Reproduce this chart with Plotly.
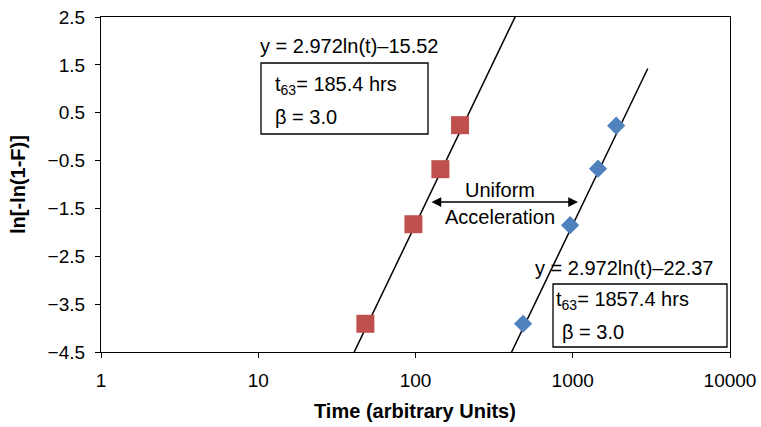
import numpy as np
import plotly.graph_objects as go

# Failure times (arbitrary units) and Weibull plotting positions
t_stress = [48, 97, 144, 192]
y_stress = [-3.91, -1.83, -0.68, 0.24]
t_use = [483, 962, 1449, 1889]
y_use = [-3.91, -1.85, -0.67, 0.23]

# Fitted trend lines: y = slope*ln(t) + intercept
slope = 2.972
icpt_stress = -15.52
icpt_use = -22.37
fit_span_stress = [40, 450]
fit_span_use = [400, 3000]

x_tickvals = [1, 10, 100, 1000, 10000]
x_ticktext = ["1", "10", "100", "1000", "10000"]
y_tickvals = [2.5, 1.5, 0.5, -0.5, -1.5, -2.5, -3.5, -4.5]

W, H = 761, 427
L, R, T, B = 101, 31, 17, 75
PW, PH = W - L - R, H - T - B


def px(x):
    return (x - L) / PW


def py(y):
    return (H - B - y) / PH


FONT = "Liberation Sans, Arial, sans-serif"

fig = go.Figure()


def fit_line(span, icpt):
    t = np.geomspace(span[0], span[1], 50)
    return t, slope * np.log(t) + icpt


for span, icpt in [(fit_span_stress, icpt_stress), (fit_span_use, icpt_use)]:
    tt, yy = fit_line(span, icpt)
    fig.add_trace(go.Scatter(x=tt, y=yy, mode="lines",
                             line=dict(color="black", width=1.5),
                             hoverinfo="skip", showlegend=False))

fig.add_trace(go.Scatter(x=t_stress, y=y_stress, mode="markers",
                         marker=dict(symbol="square", size=18, color="#C0504D"),
                         showlegend=False))
fig.add_trace(go.Scatter(x=t_use, y=y_use, mode="markers",
                         marker=dict(symbol="diamond", size=14, color="#4F81BD"),
                         showlegend=False))

annos = []


def text(x, y, s, anchor="left", size=20):
    annos.append(dict(x=px(x), y=py(y), xref="paper", yref="paper", text=s,
                      showarrow=False, xanchor=anchor, yanchor="middle",
                      font=dict(family=FONT, size=size, color="black")))


text(258, 46, "y = 2.972ln(t)\u201315.52")
text(273, 85, "t<sub>63</sub>= 185.4 hrs")
text(273, 117, "\u03b2 = 3.0")
text(533, 268, "y = 2.972ln(t)\u201322.37")
text(554, 300, "t<sub>63</sub>= 1857.4 hrs")
text(560, 332, "\u03b2 = 3.0")
text(500, 190, "Uniform", anchor="center")
text(500, 217, "Acceleration", anchor="center")

# axis titles placed directly in the margins
annos.append(dict(x=px(415), y=py(411), xref="paper", yref="paper",
                  text="<b>Time (arbitrary Units)</b>", showarrow=False,
                  xanchor="center", yanchor="middle",
                  font=dict(family=FONT, size=20, color="black")))
annos.append(dict(x=px(18), y=py(185), xref="paper", yref="paper",
                  text="<b>ln[-ln(1-F)]</b>", showarrow=False, textangle=-90,
                  xanchor="center", yanchor="middle",
                  font=dict(family=FONT, size=20, color="black")))

# double-headed arrow between the two populations
annos.append(dict(x=px(578), y=py(202), xref="paper", yref="paper",
                  ax=-(578 - 430), ay=0, axref="pixel", ayref="pixel",
                  text="", showarrow=True, arrowhead=2, startarrowhead=2,
                  arrowside="end+start", arrowsize=1.3, startarrowsize=1.3,
                  arrowwidth=1.5, arrowcolor="black", standoff=0, startstandoff=0))

shapes = []
for x0, y0, x1, y1 in [(261, 63, 428, 134), (553, 284, 727, 347)]:
    shapes.append(dict(type="rect", xref="paper", yref="paper",
                       x0=px(x0), x1=px(x1), y0=py(y1), y1=py(y0),
                       line=dict(color="black", width=1.3), fillcolor="white",
                       layer="below"))

fig.update_layout(
    width=W, height=H,
    margin=dict(l=L, r=R, t=T, b=B, autoexpand=False),
    paper_bgcolor="white", plot_bgcolor="white",
    font=dict(family=FONT, size=19, color="black"),
    annotations=annos, shapes=shapes,
    xaxis=dict(type="log", range=[0, 4], tickvals=x_tickvals, ticktext=x_ticktext,
               showgrid=False, zeroline=False, showline=True, mirror=True,
               linecolor="black", linewidth=1.3, ticks="outside", ticklen=5,
               tickcolor="black", tickwidth=1.3, ticklabelstandoff=6,
               tickfont=dict(size=19), automargin=False),
    yaxis=dict(range=[-4.5, 2.5], tickvals=y_tickvals, tickformat=".1f",
               showgrid=False, zeroline=False, showline=True, mirror=True,
               linecolor="black", linewidth=1.3, ticks="outside", ticklen=5,
               tickcolor="black", tickwidth=1.3, ticklabelstandoff=6,
               tickfont=dict(size=19), automargin=False),
)

fig.write_html("out.html")
